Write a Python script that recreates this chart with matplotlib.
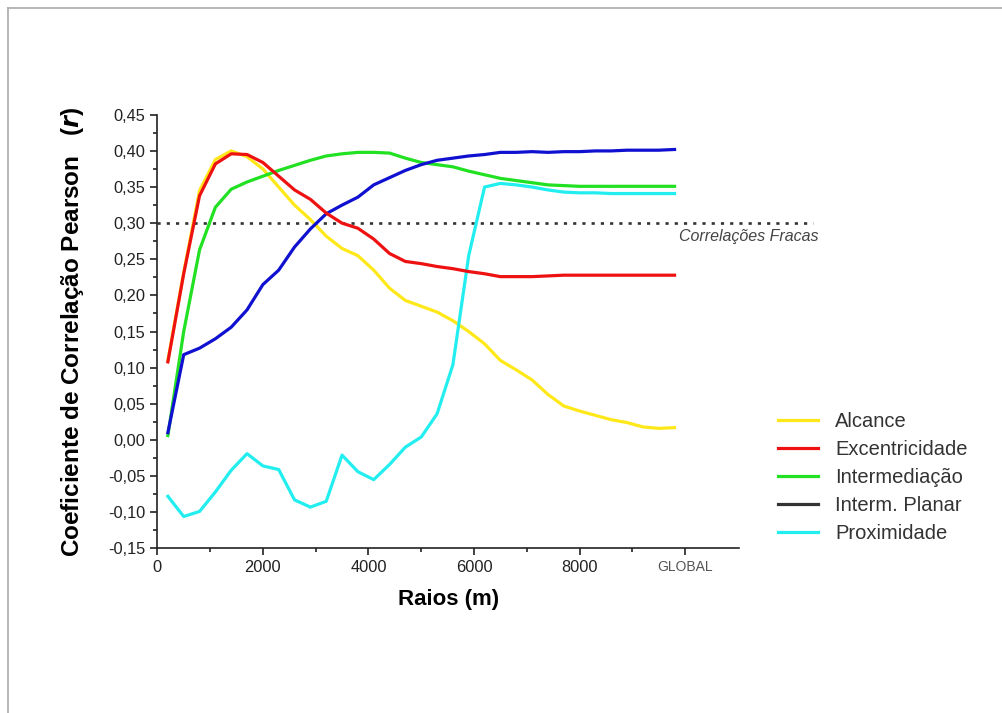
import matplotlib
matplotlib.use('Agg')
import matplotlib.pyplot as plt
from matplotlib.lines import Line2D

plt.rcParams['font.family'] = ['Liberation Sans', 'DejaVu Sans']

# raios (m) -- 200 a 9800 de 300 em 300
raios = [200, 500, 800, 1100, 1400, 1700, 2000, 2300, 2600, 2900, 3200,
         3500, 3800, 4100, 4400, 4700, 5000, 5300, 5600, 5900, 6200, 6500,
         6800, 7100, 7400, 7700, 8000, 8300, 8600, 8900, 9200, 9500, 9800]

alcance = [0.110, 0.232, 0.345, 0.388, 0.400, 0.392, 0.375, 0.350, 0.325,
           0.305, 0.282, 0.265, 0.255, 0.235, 0.210, 0.193, 0.185, 0.177,
           0.165, 0.150, 0.133, 0.110, 0.097, 0.083, 0.063, 0.047, 0.040,
           0.034, 0.028, 0.024, 0.018, 0.016, 0.017]

excentricidade = [0.108, 0.230, 0.338, 0.382, 0.396, 0.395, 0.384, 0.365,
                  0.346, 0.333, 0.314, 0.300, 0.293, 0.278, 0.258, 0.247,
                  0.244, 0.240, 0.237, 0.233, 0.230, 0.226, 0.226, 0.226,
                  0.227, 0.228, 0.228, 0.228, 0.228, 0.228, 0.228, 0.228,
                  0.228]

intermediacao = [0.006, 0.150, 0.263, 0.322, 0.347, 0.357, 0.365, 0.373,
                 0.380, 0.387, 0.393, 0.396, 0.398, 0.398, 0.397, 0.390,
                 0.384, 0.381, 0.378, 0.372, 0.367, 0.362, 0.359, 0.356,
                 0.353, 0.352, 0.351, 0.351, 0.351, 0.351, 0.351, 0.351,
                 0.351]

interm_planar = [0.010, 0.118, 0.127, 0.140, 0.156, 0.180, 0.215, 0.235,
                 0.267, 0.292, 0.313, 0.325, 0.336, 0.353, 0.363, 0.373,
                 0.381, 0.387, 0.390, 0.393, 0.395, 0.398, 0.398, 0.399,
                 0.398, 0.399, 0.399, 0.400, 0.400, 0.401, 0.401, 0.401,
                 0.402]

proximidade = [-0.078, -0.106, -0.099, -0.072, -0.042, -0.019, -0.036,
               -0.041, -0.083, -0.093, -0.085, -0.021, -0.044, -0.055,
               -0.034, -0.010, 0.004, 0.036, 0.104, 0.255, 0.350, 0.355,
               0.353, 0.350, 0.346, 0.343, 0.342, 0.342, 0.341, 0.341,
               0.341, 0.341, 0.341]

xticks = [0, 2000, 4000, 6000, 8000, 10000]
xticklabels = ['0', '2000', '4000', '6000', '8000', 'GLOBAL']
yticks = [-0.15, -0.10, -0.05, 0.0, 0.05, 0.10, 0.15, 0.20, 0.25, 0.30, 0.35, 0.40, 0.45]

fig = plt.figure(figsize=(10.02, 7.13), dpi=100)
ax = fig.add_axes([0.157, 0.231, 0.581, 0.608])

lw = 2.3
ax.plot(raios, alcance, color='#ffe81a', lw=lw, zorder=3)
ax.plot(raios, excentricidade, color='#ee1111', lw=lw, zorder=4)
ax.plot(raios, intermediacao, color='#22e022', lw=lw, zorder=3)
ax.plot(raios, interm_planar, color='#1010d0', lw=lw, zorder=3)
ax.plot(raios, proximidade, color='#22eef0', lw=lw, zorder=3)

# linha de referencia 0,30
ax.plot([0, 12430], [0.30, 0.30], color='#333333', lw=1.9,
        linestyle=(0, (1.2, 2.3)), clip_on=False, zorder=2)
ax.text(12525, 0.281, 'Correlações Fracas', style='italic', fontsize=11.5,
        color='#444444', ha='right', va='center')

ax.set_xlim(0, 11030)
ax.set_ylim(-0.15, 0.45)
ax.set_xticks(xticks)
ax.set_xticklabels(xticklabels)
ax.set_xticks(range(1000, 11000, 2000), minor=True)
ax.set_yticks(yticks)
ax.set_yticklabels([('%.2f' % v).replace('.', ',') for v in yticks])
ax.set_yticks([v / 1000 for v in range(-125, 450, 50)], minor=True)

for s in ['top', 'right']:
    ax.spines[s].set_visible(False)
for s in ['left', 'bottom']:
    ax.spines[s].set_linewidth(1.2)
    ax.spines[s].set_color('#222222')

ax.tick_params(which='major', direction='out', length=5, width=1.2,
               labelsize=11.8, color='#222222', labelcolor='#222222')
ax.tick_params(which='minor', direction='out', length=3, width=1.2,
               color='#222222')
lbl = ax.get_xticklabels()[-1]
lbl.set_fontsize(10)
lbl.set_color('#555555')

ax.set_xlabel('Raios (m)', fontsize=16, fontweight='bold', labelpad=10)
ax.set_ylabel(r'Coeficiente de Correlação Pearson   ($\boldsymbol{r}$)', fontsize=17.5,
              fontweight='bold', labelpad=16)

handles = [Line2D([], [], color='#ffe81a', lw=lw),
           Line2D([], [], color='#ee1111', lw=lw),
           Line2D([], [], color='#22e022', lw=lw),
           Line2D([], [], color='#333333', lw=lw),
           Line2D([], [], color='#22eef0', lw=lw)]
names = ['Alcance', 'Excentricidade', 'Intermediação', 'Interm. Planar', 'Proximidade']
fig.legend(handles, names, loc='center left', bbox_to_anchor=(778 / 1002, 0.330),
           frameon=False, borderpad=0, borderaxespad=0, fontsize=14.5,
           handlelength=2.0, handletextpad=0.85, labelspacing=0.44,
           labelcolor='#333333')

# moldura cinza
fig.add_artist(Line2D([8 / 1002, 8 / 1002], [0, 1 - 8 / 713], color='#aaaaaa', lw=1.2))
fig.add_artist(Line2D([8 / 1002, 1], [1 - 8 / 713, 1 - 8 / 713], color='#aaaaaa', lw=1.2))

fig.savefig('out.png', dpi=100)
